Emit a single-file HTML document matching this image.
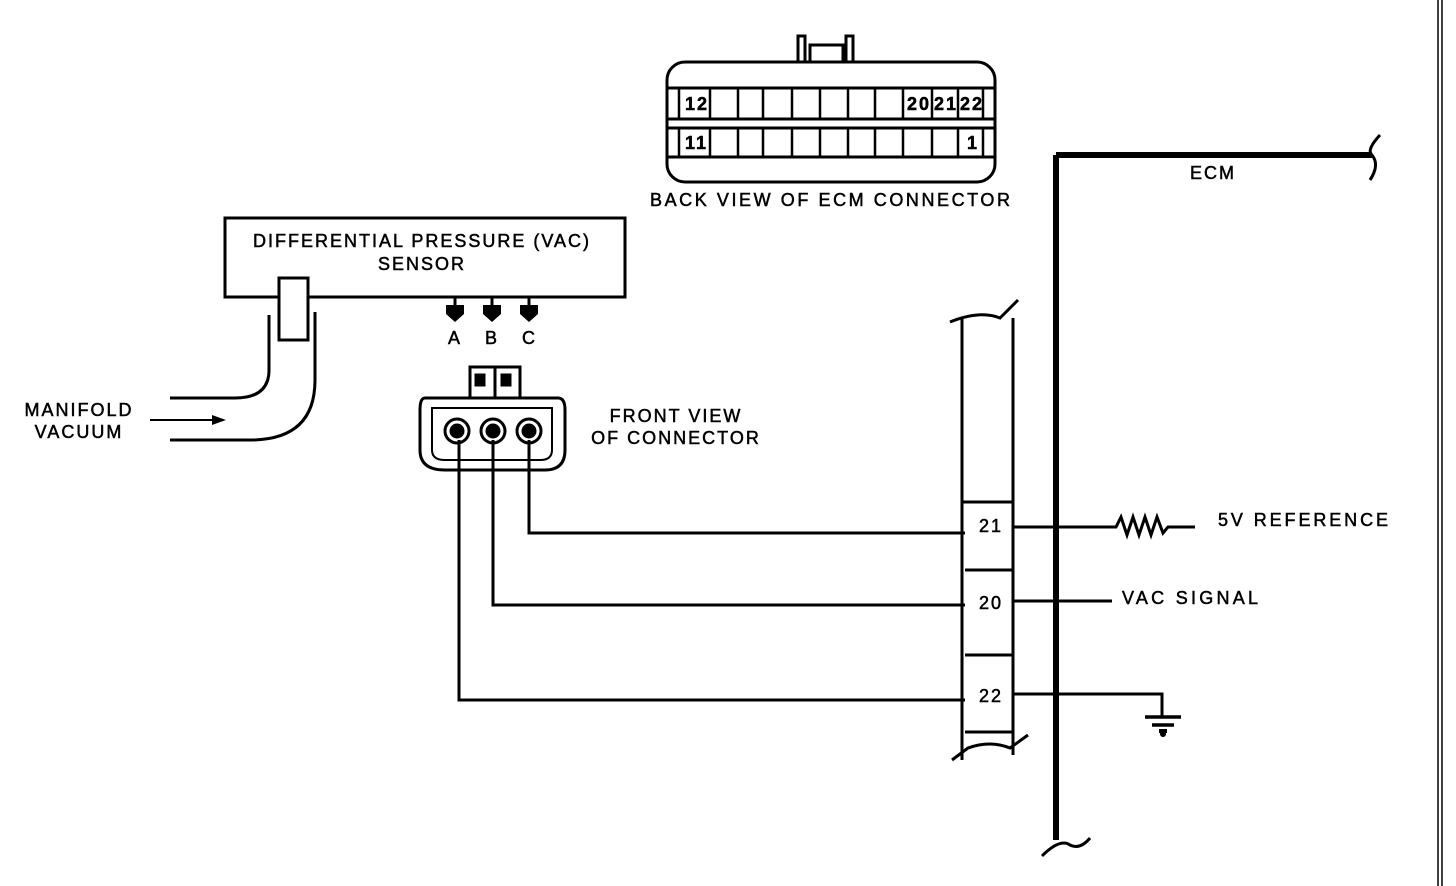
<!DOCTYPE html>
<html><head><style>body{margin:0;background:#fff}svg{display:block}text{font-family:"Liberation Sans",sans-serif;font-size:18px;letter-spacing:2px;fill:#000;stroke:#000;stroke-width:0.5}</style></head><body>
<svg width="1456" height="886" viewBox="0 0 1456 886" xmlns="http://www.w3.org/2000/svg">
<g fill="none" stroke="#000" stroke-width="3">
<path d="M798 62 V36 H805 V62 M846 62 V36 H853 V62 M810 62 V45 H843 V62"/>
<rect x="667" y="62" width="328" height="120" rx="18"/>
<line x1="667" y1="88" x2="995" y2="88"/><line x1="667" y1="119" x2="995" y2="119"/>
<line x1="667" y1="128" x2="995" y2="128"/><line x1="667" y1="157" x2="995" y2="157"/>
<g stroke-width="2.5">
<path d="M679 88V119M710 88V119M738 88V119M763 88V119M792 88V119M820 88V119M848 88V119M875 88V119M903 88V119M932 88V119M958 88V119M983 88V119"/>
<path d="M679 128V157M710 128V157M738 128V157M763 128V157M792 128V157M820 128V157M848 128V157M875 128V157M903 128V157M932 128V157M958 128V157M983 128V157"/>
</g>
<rect x="225" y="218" width="400" height="79"/>
<rect x="279" y="278" width="29" height="62" fill="#fff"/>
<path d="M269 315 V370 Q269 398 235 398 H170"/>
<path d="M315 312 V380 Q315 440 250 440 H170"/>
<path d="M455 297 V306 M492 297 V306 M529 297 V306"/>
<path d="M470 398 V367 H520 V398 M495 367 V398"/>
<path d="M476 375 h8 v10 h-8z M502 375 h8 v10 h-8z" fill="#000"/>
<path d="M425 398 H558 Q565 398 565 410 V450 Q565 470 545 470 H445 Q420 470 420 450 V410 Q420 398 425 398Z"/>
<path d="M432 408 H552 V450 Q552 460 540 460 H445 Q432 460 432 450Z" stroke-width="2"/>
<circle cx="457" cy="431" r="12"/><circle cx="493" cy="431" r="12"/><circle cx="529" cy="431" r="12"/>
<circle cx="457" cy="431" r="6" fill="#000"/><circle cx="493" cy="431" r="6" fill="#000"/><circle cx="529" cy="431" r="6" fill="#000"/>
<path d="M529 440 V533 H965 M493 440 V605 H965 M459 440 V700 H965"/>
<path d="M962 318 V760 M1013 318 V755"/>
<path d="M950 322 Q980 310 1000 318 L1018 300"/>
<path d="M952 760 L968 748 Q990 740 1010 748 L1028 735"/>
<path d="M962 502 H1013 M965 570 H1013 M965 655 H1013 M965 732 H1013"/>
<path d="M1013 527 H1116 L1121 517 L1127 535 L1133 517 L1139 535 L1145 517 L1151 535 L1157 517 L1163 533 L1168 527 H1195"/>
<path d="M1013 601 H1112"/>
<path d="M1013 694 H1162 V716"/>
<path d="M1145 717 H1181 M1152 725 H1174" stroke-width="3.5"/>
<path d="M1438 0 V886 M1442 0 V886" stroke-width="1.5"/>
</g>
<circle cx="1163" cy="734" r="3"/>
<rect x="1159" y="729" width="8" height="4"/>
<path d="M1056 155 V840 M1056 155 H1372" stroke="#000" stroke-width="6" fill="none"/>
<path d="M1380 135 Q1366 150 1372 155 Q1380 165 1370 180" stroke="#000" stroke-width="3" fill="none"/>
<path d="M1042 856 Q1060 838 1070 845 Q1080 850 1090 838" stroke="#000" stroke-width="3" fill="none"/>
<path d="M150 420 H215" stroke="#000" stroke-width="2"/>
<path d="M226 420 L212 415 V425Z"/>
<path d="M446 305 H464 V314 L455 322 L446 314Z M483 305 H501 V314 L492 322 L483 314Z M520 305 H538 V314 L529 322 L520 314Z"/>
<g font-weight="bold" font-size="15" letter-spacing="0">
<text x="685" y="110">12</text><text x="685" y="149">11</text>
<text x="907" y="110">20</text><text x="934" y="110">21</text><text x="960" y="110">22</text>
<text x="967" y="149">1</text>
</g>
<text x="650" y="206" textLength="362">BACK VIEW OF ECM CONNECTOR</text>
<text x="422" y="247" text-anchor="middle">DIFFERENTIAL PRESSURE (VAC)</text>
<text x="422" y="270" text-anchor="middle">SENSOR</text>
<text x="448" y="344">A</text><text x="485" y="344">B</text><text x="522" y="344">C</text>
<text x="676" y="422" text-anchor="middle">FRONT VIEW</text>
<text x="676" y="444" text-anchor="middle">OF CONNECTOR</text>
<text x="79" y="416" text-anchor="middle">MANIFOLD</text>
<text x="79" y="438" text-anchor="middle">VACUUM</text>
<text x="1213" y="179" text-anchor="middle">ECM</text>
<text x="979" y="532">21</text><text x="979" y="609">20</text><text x="979" y="702">22</text>
<text x="1218" y="526" textLength="172">5V REFERENCE</text>
<text x="1122" y="604" textLength="138">VAC SIGNAL</text>
</svg>
</body></html>
